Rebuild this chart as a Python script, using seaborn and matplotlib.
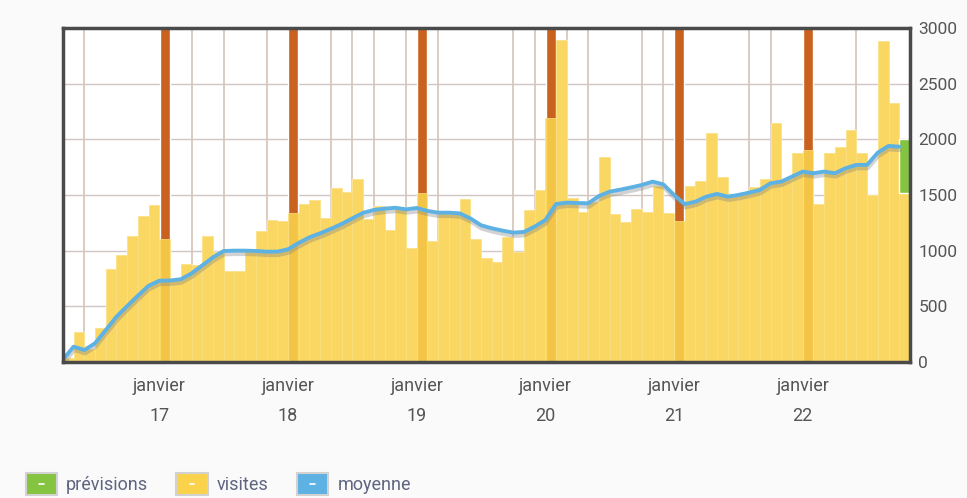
import matplotlib
matplotlib.use("Agg")
import matplotlib.pyplot as plt
import matplotlib.patheffects as pe
from matplotlib.patches import Patch, Rectangle
from matplotlib.lines import Line2D
from matplotlib.legend_handler import HandlerBase
import seaborn as sns
import pandas as pd
import numpy as np

# mois couverts (avril 2016 -> octobre 2022)
mois = pd.date_range("2016-04-01", "2022-10-01", freq="MS")

# visites mensuelles
visites = [40, 272, 120, 302, 832, 961, 1134, 1311, 1410, 1102,
           740, 880, 875, 1131, 990, 820, 815, 1010, 1180, 1275,
           1266, 1341, 1419, 1455, 1296, 1566, 1524, 1641, 1284, 1401,
           1186, 1395, 1027, 1521, 1087, 1340, 1330, 1461, 1102, 931,
           901, 1126, 991, 1365, 1545, 2194, 2892, 1470, 1350, 1440,
           1844, 1326, 1260, 1371, 1350, 1580, 1335, 1263, 1584, 1626,
           2054, 1665, 1490, 1520, 1575, 1641, 2144, 1640, 1874, 1904,
           1416, 1874, 1934, 2084, 1874, 1500, 2883, 2329, 1521]

# moyenne glissante
moyenne = [20, 138, 108, 168, 287, 407, 503, 596, 685, 730,
           732, 743, 796, 868, 940, 997, 1000, 1000, 997, 991,
           991, 1012, 1070, 1120, 1156, 1196, 1240, 1290, 1340, 1365,
           1377, 1385, 1371, 1383, 1357, 1341, 1341, 1335, 1290, 1228,
           1201, 1180, 1162, 1168, 1216, 1275, 1419, 1431, 1428, 1425,
           1491, 1530, 1548, 1568, 1590, 1620, 1595, 1500, 1418, 1440,
           1485, 1509, 1485, 1500, 1521, 1545, 1605, 1620, 1665, 1710,
           1695, 1710, 1695, 1740, 1770, 1770, 1880, 1940, 1934]

# prévision du dernier mois
prevision = 2000

# mois marqués par un trait vertical
evenements = ["2016-06", "2017-04", "2017-07", "2017-11", "2018-05", "2018-07",
              "2018-09", "2018-12", "2019-03", "2019-10", "2019-12", "2020-03",
              "2020-05", "2020-10", "2020-12", "2021-08", "2021-10", "2022-06"]

jaune = "#FAD24C"
orange = "#C9621F"
vert = "#84C441"
bleu = "#5DB1E3"


class HandlerCarre(HandlerBase):
    # carré de légende avec un petit tiret blanc au milieu
    def create_artists(self, legend, orig_handle, xdescent, ydescent,
                       width, height, fontsize, trans):
        r = Rectangle((-xdescent, -ydescent), width, height,
                      facecolor=orig_handle.get_facecolor(), edgecolor="#d2d2d2",
                      lw=1.5, transform=trans)
        t = Line2D([-xdescent + width * 0.43, -xdescent + width * 0.57],
                   [-ydescent + height / 2] * 2, color="white", lw=1.2,
                   transform=trans)
        return [r, t]


sns.set_theme(style="white")
plt.rcParams["font.family"] = ["Roboto", "DejaVu Sans"]

fig = plt.figure(figsize=(9.67, 4.98), dpi=100, facecolor="#fafafa")
ax = fig.add_axes([0.065, 0.273, 0.876, 0.671])
ax.set_facecolor("white")

idx = np.arange(len(mois))
ymax = 3000
cles = list(mois.strftime("%Y-%m"))
ev_idx = np.array([cles.index(e) for e in evenements])
jan = idx[mois.month == 1]

# grille + traits
ax.yaxis.grid(True, color="#cfc6c2", lw=1, zorder=0.5)
ax.vlines(ev_idx - 0.5, 0, ymax, color="#d6c3b8", lw=1.2, zorder=0.6)

# fond blanc sous les barres
ax.bar(idx, visites, width=1, color="white", zorder=1.0)
# janvier
ax.bar(jan, ymax, width=0.92, color=orange, zorder=1.2)

sns.barplot(x=idx, y=visites, native_scale=True, width=1, color=jaune,
            saturation=1, alpha=0.88, edgecolor="#FBE084", linewidth=0.6,
            ax=ax, zorder=1.5)

# prévision
ax.bar(idx[-1], prevision - visites[-1], bottom=visites[-1], width=1,
       color=vert, zorder=2)

sns.lineplot(x=idx - 0.5, y=moyenne, color=bleu, lw=2.8, ax=ax, zorder=3,
             path_effects=[pe.SimpleLineShadow(offset=(0.5, -2.5), shadow_color="gray", alpha=0.35),
                           pe.Normal()])

ax.set_xlim(-0.5, len(mois) - 0.5)
ax.set_ylim(0, ymax)
ax.set_xlabel("")
ax.set_ylabel("")

ax.yaxis.tick_right()
ax.set_yticks(range(0, 3001, 500))
ax.tick_params(axis="y", length=0, labelsize=12.5, labelcolor="#555555", pad=6)
ax.set_xticks(jan - 0.5)
ax.set_xticklabels([f"janvier\n{d:%y}" for d in mois[mois.month == 1]], linespacing=1.85)
ax.tick_params(axis="x", length=0, labelsize=13, labelcolor="#555555", pad=10.5)

for s in ax.spines.values():
    s.set_visible(True)
    s.set_color("#4a4a4a")
    s.set_linewidth(2.5)
    s.set_zorder(5)

handles = [Patch(facecolor=vert, label="prévisions"),
           Patch(facecolor=jaune, label="visites"),
           Patch(facecolor=bleu, label="moyenne")]
fig.legend(handles=handles, handler_map={Patch: HandlerCarre()},
           loc="lower left", bbox_to_anchor=(0.0096, -0.027), ncol=3,
           frameon=False, fontsize=13, handlelength=1.75, handleheight=1.5,
           columnspacing=1.55, handletextpad=0.5, labelcolor="#5f6480")

fig.savefig("out.png", dpi=100, facecolor=fig.get_facecolor())
